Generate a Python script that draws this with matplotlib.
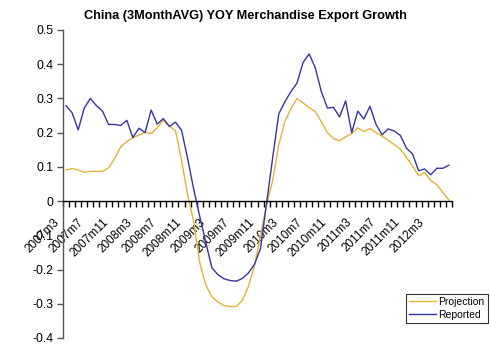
import matplotlib
matplotlib.use("Agg")
import matplotlib.pyplot as plt
import matplotlib.transforms as mtransforms
import numpy as np

plt.rcParams['font.family'] = ['Liberation Sans', 'DejaVu Sans']
plt.rcParams['axes.unicode_minus'] = False

# Months 2007m3 .. 2012m6
months = []
for y in range(2007, 2013):
    for m in range(1, 13):
        if (y == 2007 and m < 3) or (y == 2012 and m > 6):
            continue
        months.append(f"{y}m{m}")

projection = [0.091, 0.095, 0.091, 0.084, 0.087, 0.087, 0.087, 0.097, 0.125, 0.159,
              0.174, 0.185, 0.193, 0.201, 0.197, 0.214, 0.237, 0.219, 0.206, 0.120,
              0.018, -0.060, -0.180, -0.245, -0.280, -0.295, -0.305, -0.308, -0.308, -0.290,
              -0.250, -0.190, -0.100, -0.010, 0.060, 0.165, 0.232, 0.270, 0.300, 0.287,
              0.273, 0.262, 0.232, 0.200, 0.183, 0.176, 0.188, 0.197, 0.214, 0.203,
              0.212, 0.200, 0.190, 0.178, 0.165, 0.152, 0.128, 0.103, 0.074, 0.084,
              0.060, 0.048, 0.025, 0.003]

reported = [0.279, 0.258, 0.208, 0.272, 0.300, 0.279, 0.263, 0.224, 0.224, 0.221,
            0.236, 0.186, 0.213, 0.200, 0.266, 0.225, 0.241, 0.218, 0.231, 0.207,
            0.125, 0.035, -0.045, -0.121, -0.195, -0.215, -0.227, -0.232, -0.234, -0.226,
            -0.210, -0.185, -0.138, -0.005, 0.127, 0.255, 0.290, 0.320, 0.345, 0.405,
            0.430, 0.390, 0.320, 0.272, 0.274, 0.246, 0.293, 0.200, 0.263, 0.240,
            0.277, 0.224, 0.194, 0.211, 0.205, 0.192, 0.155, 0.138, 0.089, 0.094,
            0.077, 0.096, 0.096, 0.105]

ytick_values = [-0.4, -0.3, -0.2, -0.1, 0.0, 0.1, 0.2, 0.3, 0.4, 0.5]
ytick_labels = ["-0.4", "-0.3", "-0.2", "-0.1", "0", "0.1", "0.2", "0.3", "0.4", "0.5"]

title = "China (3MonthAVG) YOY Merchandise Export Growth"

W, H = 490, 351
fig = plt.figure(figsize=(W / 100, H / 100), dpi=100)
ax = fig.add_axes([63 / W, 1 - 338 / H, 389 / W, 308 / H])

x = np.arange(len(months))
ax.plot(x, projection, color="#E2B23A", lw=1.0, label="Projection")
ax.plot(x, reported, color="#3535A0", lw=1.0, label="Reported")

ax.set_xlim(-0.5, len(months) - 0.5)
ax.set_ylim(-0.4, 0.5)

for s in ["top", "right"]:
    ax.spines[s].set_visible(False)
ax.spines["bottom"].set_position(("data", 0))
ax.spines["bottom"].set_color("black")
ax.spines["bottom"].set_linewidth(1.0)
ax.spines["left"].set_color("#555555")
ax.spines["left"].set_linewidth(1.0)

ax.set_yticks(ytick_values)
ax.set_yticklabels(ytick_labels)
ax.tick_params(axis="y", direction="out", length=4, width=1, color="#555555",
               labelsize=8.8, pad=3)

label_idx = list(range(0, len(months), 4))
ax.set_xticks(label_idx)
ax.set_xticklabels([months[i] for i in label_idx], rotation=45, ha="right",
                   va="center", rotation_mode="anchor", fontsize=8.5)
ax.tick_params(axis="x", which="major", length=0, pad=14)
ax.set_xticks(np.arange(len(months) + 1) - 0.5, minor=True)
ax.tick_params(axis="x", which="minor", direction="out", length=4, width=1, color="black")

offset = mtransforms.ScaledTranslation(-6 / 72, 0, fig.dpi_scale_trans)
for lab in ax.get_xticklabels():
    lab.set_transform(lab.get_transform() + offset)

fig.text(245 / W, 1 - 16 / H, title, ha="center", va="center", fontsize=9.2,
         fontweight="bold")

leg = fig.legend(loc="upper left", bbox_to_anchor=(406 / W, 1 - 294 / H),
                 bbox_transform=fig.transFigure, borderaxespad=0, fontsize=7.5,
                 frameon=True, fancybox=False, shadow=False, handlelength=2.6,
                 handletextpad=0.2, borderpad=0.3, labelspacing=0.25)
leg.get_frame().set_edgecolor("black")
leg.get_frame().set_linewidth(0.8)

fig.savefig("out.png", dpi=100)
